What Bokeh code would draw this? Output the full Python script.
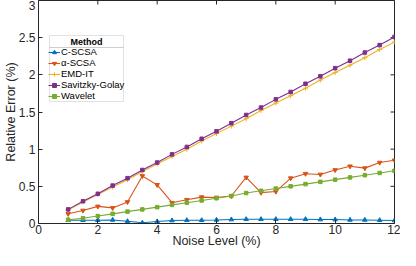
import math
from bokeh.plotting import figure
from bokeh.models import FixedTicker, Range1d, Legend, LegendItem, BoxAnnotation, Label
from bokeh.embed import file_html
from bokeh.resources import INLINE

noise = [1, 1.5, 2, 2.5, 3, 3.5, 4, 4.5, 5, 5.5, 6, 6.5, 7, 7.5, 8, 8.5, 9, 9.5, 10, 10.5, 11, 11.5, 12]
c_scsa = [0.044, 0.044, 0.044, 0.048, 0.03, 0.01, 0.026, 0.04, 0.044, 0.044, 0.048, 0.053, 0.057, 0.057, 0.057,
          0.057, 0.057, 0.053, 0.053, 0.048, 0.048, 0.044, 0.04]
a_scsa = [0.13, 0.175, 0.23, 0.21, 0.29, 0.64, 0.52, 0.28, 0.32, 0.355, 0.35, 0.37, 0.62, 0.415, 0.43,
          0.61, 0.67, 0.66, 0.72, 0.77, 0.745, 0.82, 0.85]
emd_it = [0.18, 0.29, 0.39, 0.49, 0.59, 0.70, 0.80, 0.90, 1.00, 1.11, 1.21, 1.31, 1.41, 1.52, 1.62,
          1.72, 1.82, 1.93, 2.03, 2.13, 2.23, 2.34, 2.44]
sav_golay = [0.19, 0.30, 0.40, 0.51, 0.61, 0.72, 0.82, 0.93, 1.03, 1.14, 1.24, 1.35, 1.46, 1.56, 1.67,
             1.77, 1.88, 1.98, 2.09, 2.19, 2.30, 2.40, 2.51]
wavelet = [0.05, 0.07, 0.10, 0.13, 0.16, 0.19, 0.22, 0.25, 0.28, 0.31, 0.34, 0.37, 0.41, 0.44, 0.47,
           0.50, 0.53, 0.56, 0.59, 0.62, 0.65, 0.68, 0.71]
x_ticks = [0, 2, 4, 6, 8, 10, 12]
y_ticks = [0, 0.5, 1, 1.5, 2, 2.5, 3]

FONT = "Liberation Sans"
AX = "#262626"

p = figure(width=400, height=250, output_backend="svg", toolbar_location=None,
           x_range=Range1d(x_ticks[0], x_ticks[-1]), y_range=Range1d(y_ticks[0], y_ticks[-1]),
           min_border_left=30, min_border_right=6, min_border_top=0, min_border_bottom=0)
p.title.visible = False
p.grid.visible = False
p.outline_line_color = AX
p.outline_line_width = 1

for ax, lab in ((p.xaxis[0], "Noise Level (%)"), (p.yaxis[0], "Relative Error (%)")):
    ax.axis_label = lab
    ax.axis_label_text_font = FONT
    ax.axis_label_text_font_size = "12.5px"
    ax.axis_label_text_font_style = "normal"
    ax.axis_label_text_color = AX
    ax.major_label_text_font = FONT
    ax.major_label_text_font_size = "12px"
    ax.major_label_text_color = AX
    ax.axis_line_color = AX
    ax.major_tick_line_color = AX
    ax.major_tick_in = 4
    ax.major_tick_out = 0
    ax.minor_tick_line_color = None
p.xaxis[0].major_label_standoff = 1
p.xaxis[0].axis_label_standoff = -3
p.yaxis[0].major_label_standoff = 3
p.yaxis[0].axis_label_standoff = -2
p.xaxis[0].ticker = FixedTicker(ticks=x_ticks)
p.yaxis[0].ticker = FixedTicker(ticks=y_ticks)
p.yaxis[0].major_label_overrides = {0: "0", 0.5: "0.5", 1: "1", 1.5: "1.5", 2: "2", 2.5: "2.5", 3: "3"}

# inward tick marks on the top and right edges of the box
p.scatter(x_ticks, [y_ticks[-1]] * len(x_ticks), marker="dash", angle=math.pi / 2, size=8,
          line_color=AX, line_width=1)
p.scatter([x_ticks[-1]] * len(y_ticks), y_ticks, marker="dash", size=8, line_color=AX, line_width=1)

specs = [
    ("C-SCSA", c_scsa, "#0072BD", "triangle", 4.5),
    ("α-SCSA", a_scsa, "#D95319", "inverted_triangle", 4.5),
    ("EMD-IT", emd_it, "#EDB120", "cross", 5),
    ("Savitzky-Golay", sav_golay, "#7E2F8E", "square", 3.5),
    ("Wavelet", wavelet, "#77AC30", "square", 3.5),
]
items = []
for name, ys, col, mk, sz in specs:
    r1 = p.line(noise, ys, line_color=col, line_width=1.1)
    r2 = p.scatter(noise, ys, marker=mk, size=sz, line_color=col, fill_color=col, line_width=1)
    items.append(LegendItem(label=name, renderers=[r1, r2]))

# legend frame with centered bold title and separator line
box = BoxAnnotation(left=11, right=85, top=188, bottom=122,
                    left_units="screen", right_units="screen", top_units="screen", bottom_units="screen",
                    fill_color="white", fill_alpha=1, line_color="#a0a0a0", line_width=1)
p.add_layout(box)
sep = BoxAnnotation(left=11, right=85, top=176, bottom=176,
                    left_units="screen", right_units="screen", top_units="screen", bottom_units="screen",
                    fill_alpha=0, line_color="#a0a0a0", line_width=1)
p.add_layout(sep)
title = Label(x=48, y=182, x_units="screen", y_units="screen", text="Method",
              text_font=FONT, text_font_size="9px", text_font_style="bold",
              text_align="center", text_baseline="middle", text_color="#000000")
p.add_layout(title)

leg = Legend(items=items, location=(10, 122),
             label_text_font=FONT, label_text_font_size="9.5px", label_text_color="#000000",
             label_height=10, label_standoff=1, glyph_height=10, glyph_width=12,
             spacing=0, padding=2, margin=0, border_line_color=None,
             background_fill_alpha=0)
p.add_layout(leg)

open("out.html", "w").write(file_html(p, INLINE))
